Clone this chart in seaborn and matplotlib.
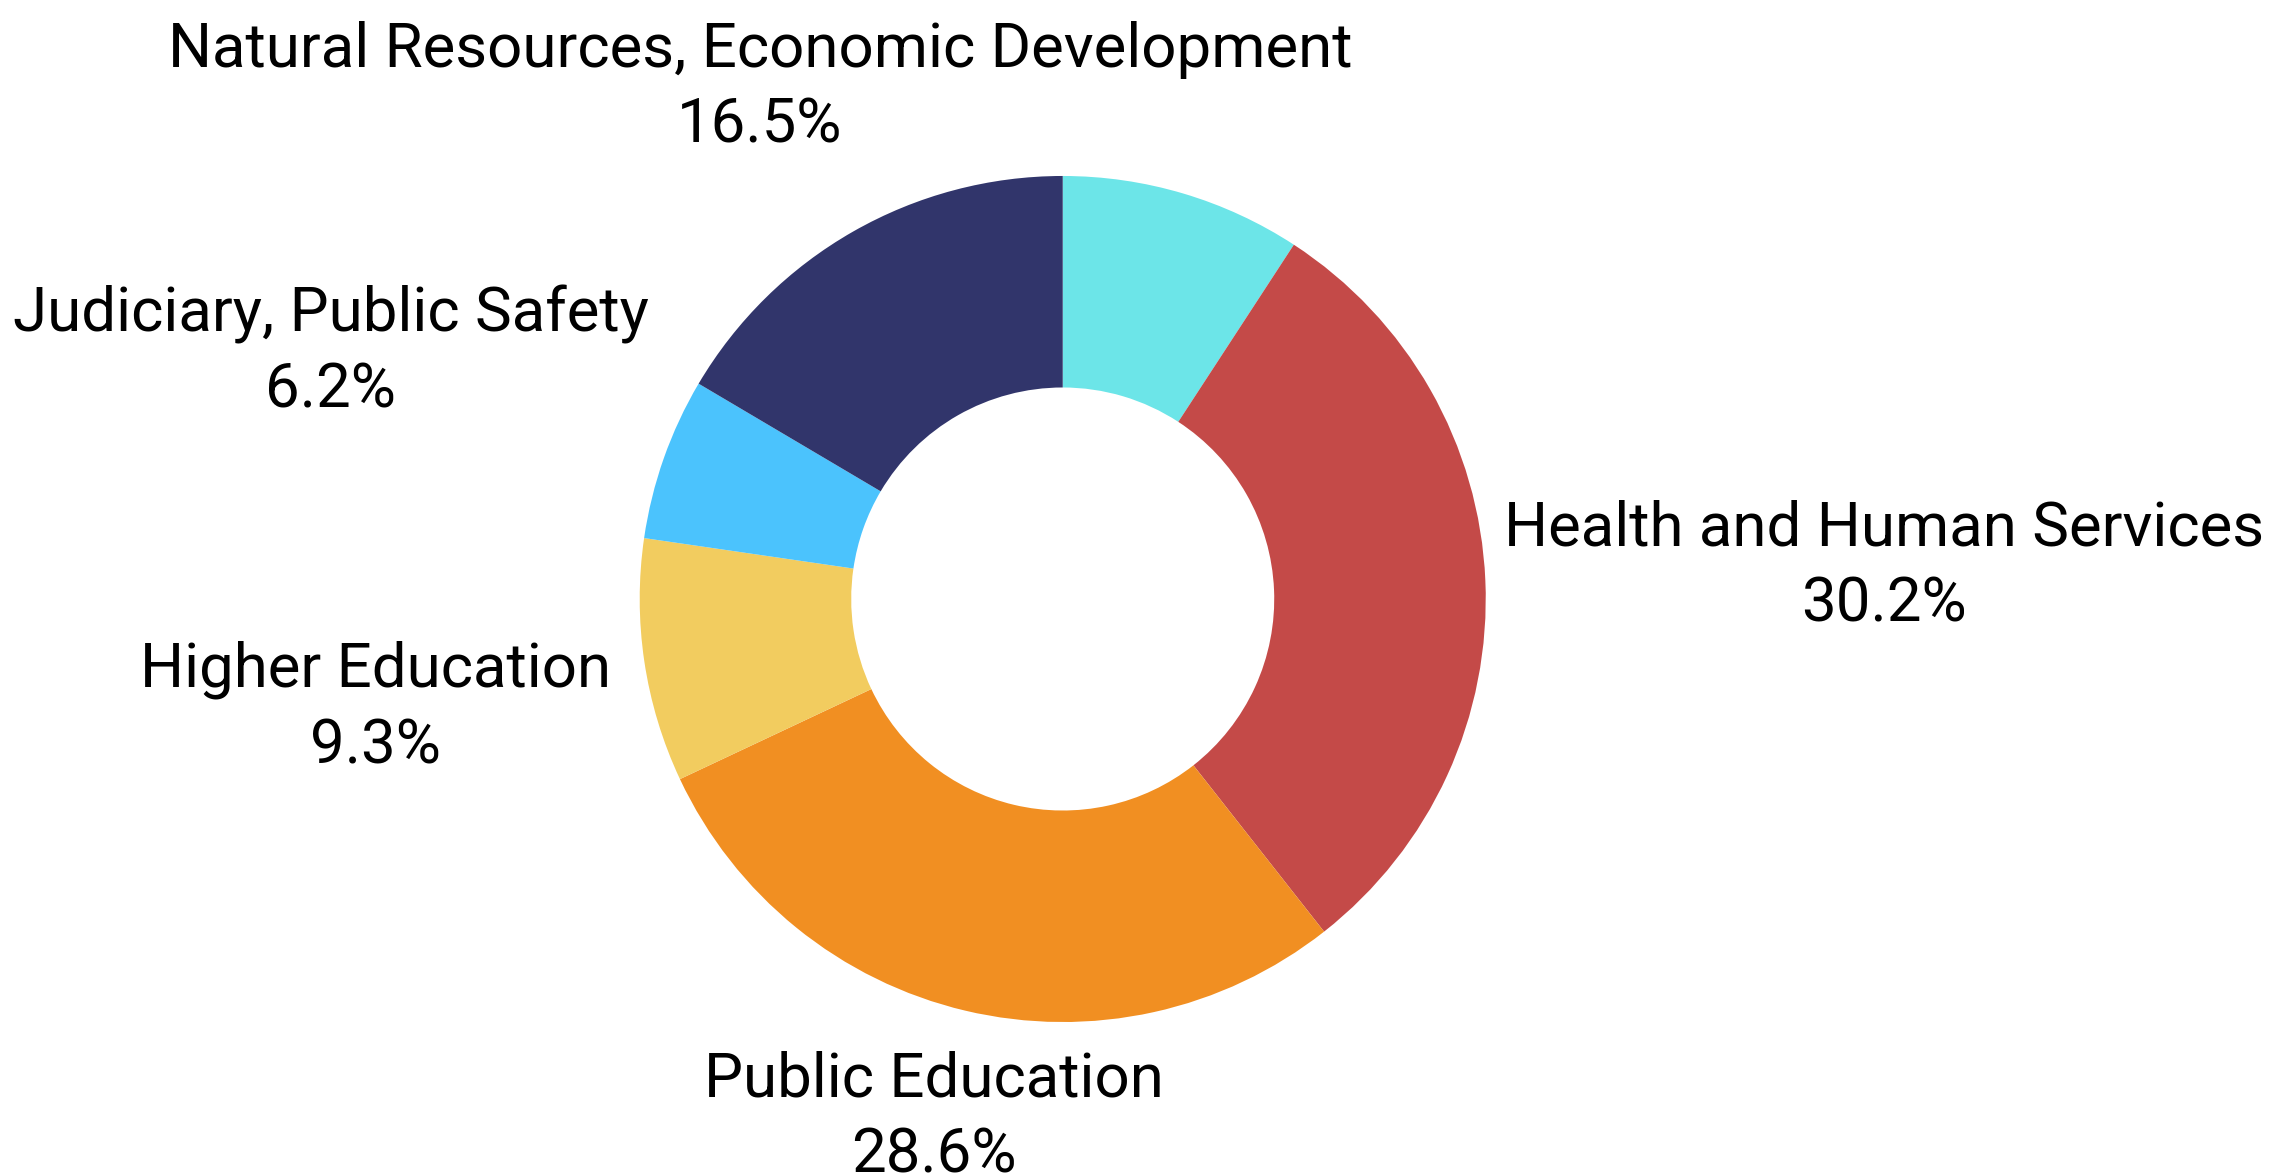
import numpy as np
from matplotlib import pyplot as plt
import seaborn as sns

# budget shares, clockwise from 12 o'clock
categories = ['Other', 'Health and Human Services', 'Public Education', 'Higher Education',
              'Judiciary, Public Safety', 'Natural Resources, Economic Development']
shares = [9.2, 30.2, 28.6, 9.3, 6.2, 16.5]
show_label = [False, True, True, True, True, True]
colors = ['#6ce5e8', '#c44a48', '#f18f22', '#f2cc5f', '#4bc3fd', '#31356b']

# baseline of the percentage line of each outside label, in units of the outer radius
label_pos = [None, (1.941, -0.054), (-0.305, -1.355), (-1.624, -0.388), (-1.730, 0.452), (-0.716, 1.078)]

sns.set_theme(style='white')
plt.rcParams['font.family'] = ['Roboto', 'DejaVu Sans']

fig = plt.figure(figsize=(22.9, 11.76), dpi=100)
ax = fig.add_axes([0, 0, 1, 1])

wedges, _ = ax.pie(shares, colors=sns.color_palette(colors), startangle=90, counterclock=False,
                   radius=1, wedgeprops=dict(width=0.5, linewidth=0))

total = sum(shares)
for name, val, show, pos in zip(categories, shares, show_label, label_pos):
    if not show:
        continue
    ax.text(pos[0], pos[1], f'{name}\n{val / total * 100:.1f}%', ha='center', va='baseline',
            multialignment='center', fontsize=44.5, color='black', linespacing=1.39)

ax.set_aspect('equal')
ax.set_xlim(-2.512, 2.901)
ax.set_ylim(-1.364, 1.416)
ax.axis('off')

fig.savefig('out.png', dpi=100, facecolor='white')
